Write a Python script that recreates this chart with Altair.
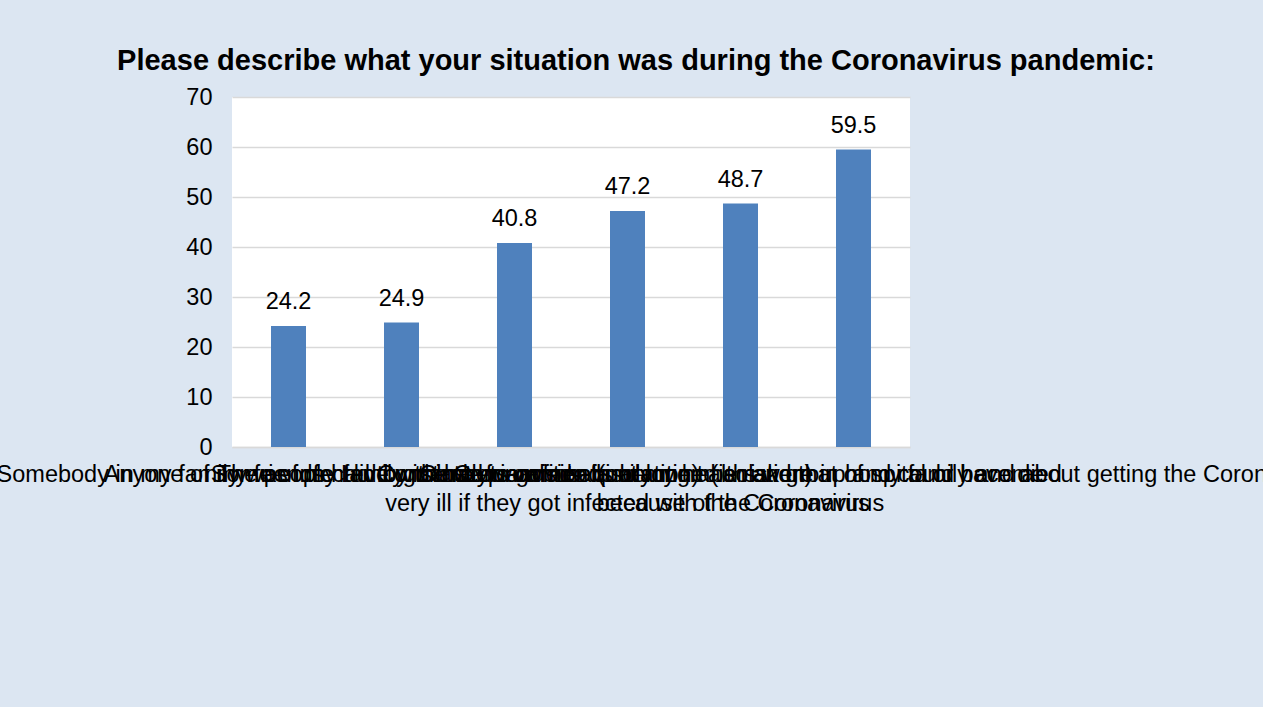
import altair as alt
import pandas as pd

categories = [
    "Somebody in my family was infected by the Coronavirus",
    "Anyone of my friends had to go into quarantine (isolation)",
    "The people I live with had to go into quarantine (isolation)",
    "Some of my family members or friends belong to a risk group and could become|very ill if they got infected with the Coronavirus",
    "Close friends or family members were in hospital or have died|because of the Coronavirus",
    "Constantly worried about my health and that of my family and about getting the Coronavirus",
]
values = [24.2, 24.9, 40.8, 47.2, 48.7, 59.5]
y_ticks = [0, 10, 20, 30, 40, 50, 60, 70]
title_text = "Please describe what your situation was during the Coronavirus pandemic:"

df = pd.DataFrame({"category": categories, "value": values})

FONT = "Liberation Sans"
FS = 23.5

x_enc = alt.X(
    "category:N",
    sort=categories,
    scale=alt.Scale(paddingInner=0, paddingOuter=0),
    axis=alt.Axis(
        title=None,
        labelAngle=0,
        labelFontSize=FS,
        labelFont=FONT,
        labelColor="#000000",
        labelLimit=0,
        labelOverlap=False,
        labelExpr="split(datum.label, '|')",
        labelLineHeight=29,
        labelPadding=15,
        labelBaseline="top",
        ticks=False,
        domainColor="#D9D9D9",
        domainWidth=1.5,
        grid=False,
    ),
)
y_enc = alt.Y(
    "value:Q",
    scale=alt.Scale(domain=[0, 70], nice=False),
    axis=alt.Axis(
        title=None,
        values=y_ticks,
        labelFontSize=FS,
        labelFont=FONT,
        labelColor="#000000",
        labelPadding=20,
        ticks=False,
        domain=False,
        gridColor="#D9D9D9",
        gridWidth=1.5,
    ),
)

bars = alt.Chart(df).mark_bar(size=35, color="#4F81BD").encode(x=x_enc, y=y_enc)
labels = alt.Chart(df).mark_text(
    baseline="alphabetic", dy=-17, fontSize=FS, font=FONT, color="#000000"
).encode(x=alt.X("category:N", sort=categories), y="value:Q", text=alt.Text("value:Q", format=".1f"))

chart = (
    alt.layer(bars, labels)
    .properties(
        width=678,
        height=350,
        autosize=alt.AutoSizeParams(type="none"),
        padding={"left": 232, "top": 97, "right": 353, "bottom": 260},
        background="#DCE6F2",
        title=alt.TitleParams(
            text=title_text,
            fontSize=29,
            font=FONT,
            fontWeight="bold",
            color="#000000",
            anchor="middle",
            dx=65,
            offset=9,
        ),
    )
    .configure_view(fill="#FFFFFF", stroke=None)
)

chart.save("out.html", embed_options={"renderer": "svg", "actions": False})
